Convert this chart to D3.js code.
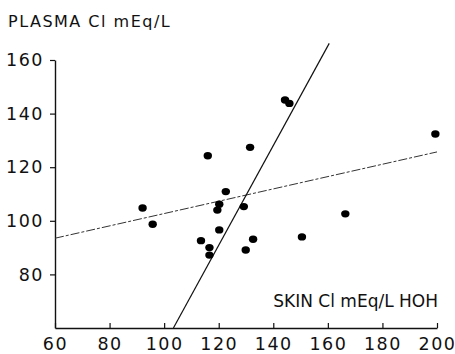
<!DOCTYPE html>
<html>
<head>
<meta charset="utf-8">
<script src="https://cdn.jsdelivr.net/npm/d3@7/dist/d3.min.js"></script>
<style>
  html, body { margin: 0; padding: 0; background: #fff; }
  svg { display: block; }
  text { font-family: "DejaVu Sans", sans-serif; fill: #111; }
</style>
</head>
<body>
<svg id="chart" width="455" height="354"></svg>
<script>
// Skin chloride (mEq/L HOH) against plasma chloride (mEq/L)
const skinCl = [131.5, 116.0, 122.6, 92.1, 120.2, 119.5, 129.2, 95.8, 120.2, 113.5,
                132.6, 116.6, 129.9, 116.6, 144.3, 145.9, 199.4, 166.4, 150.5];
const plasmaCl = [127.4, 124.3, 110.9, 104.8, 106.2, 104.0, 105.3, 98.7, 96.6, 92.6,
                  93.1, 90.0, 89.1, 87.2, 145.1, 143.8, 132.4, 102.6, 94.0];

// Two fitted lines, each given by its end points (x, y)
const dashedFitX = [60, 200];
const dashedFitY = [93.5, 125.7];
const solidFitX = [103.4, 160.5];
const solidFitY = [60, 166.2];

const xTicks = [60, 80, 100, 120, 140, 160, 180, 200];
const yTicks = [80, 100, 120, 140, 160];

const svg = d3.select("#chart");
const x = d3.scaleLinear().domain([60, 200]).range([55, 437]);
const y = d3.scaleLinear().domain([60, 160]).range([328, 60]);

// axes
const xAxis = d3.axisBottom(x).tickValues(xTicks).tickSizeInner(-5).tickSizeOuter(0).tickPadding(10);
const gx = svg.append("g").attr("transform", `translate(0,${y(60)})`).call(xAxis);
gx.select(".domain").attr("stroke", "#111").attr("stroke-width", 1.4);
gx.selectAll(".tick line").attr("stroke", "#111").attr("stroke-width", 1.2);
gx.selectAll(".tick text").attr("font-size", 17.5).attr("letter-spacing", 1.5)
  .attr("fill", "#111").attr("dy", "0.71em");

const yAxis = d3.axisLeft(y).tickValues(yTicks).tickSizeInner(5).tickSizeOuter(0).tickPadding(6);
const gy = svg.append("g").attr("transform", `translate(${x(60)},0)`).call(yAxis);
gy.select(".domain").attr("stroke", "#111").attr("stroke-width", 1.4);
gy.selectAll(".tick line").attr("stroke", "#111").attr("stroke-width", 1.2);
gy.selectAll(".tick text").attr("font-size", 17.5).attr("letter-spacing", 1.5).attr("fill", "#111");

// axis titles
svg.append("text").attr("x", 8).attr("y", 27).attr("font-size", 16).attr("letter-spacing", 1.5)
  .text("PLASMA Cl mEq/L");
svg.append("text").attr("x", 438).attr("y", 307).attr("text-anchor", "end")
  .attr("font-size", 17).attr("letter-spacing", 0)
  .text("SKIN Cl mEq/L HOH");

// fitted lines
const line = d3.line().x(d => x(d[0])).y(d => y(d[1]));
svg.append("path").datum(d3.zip(dashedFitX, dashedFitY)).attr("d", line)
  .attr("fill", "none").attr("stroke", "#333").attr("stroke-width", 1)
  .attr("stroke-dasharray", "9 2 3 2");
svg.append("path").datum(d3.zip(solidFitX, solidFitY)).attr("d", line)
  .attr("fill", "none").attr("stroke", "#111").attr("stroke-width", 1.2);

// data points
svg.append("g").selectAll("ellipse").data(d3.zip(skinCl, plasmaCl)).join("ellipse")
  .attr("cx", d => x(d[0])).attr("cy", d => y(d[1]))
  .attr("rx", 4.2).attr("ry", 3.7).attr("fill", "#000");
</script>
</body>
</html>
